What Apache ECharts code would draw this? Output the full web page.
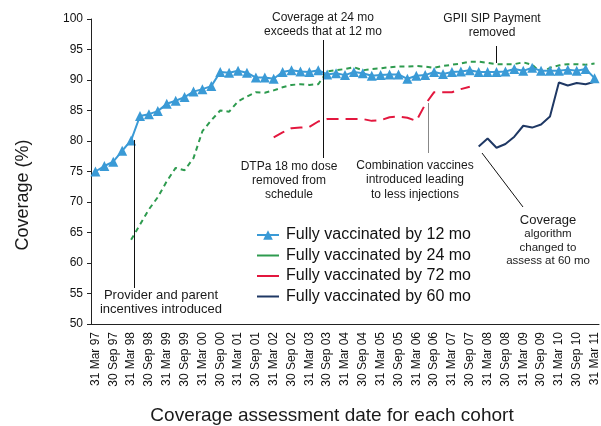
<!DOCTYPE html>
<html>
<head>
    <meta charset="utf-8">
    <title>Coverage</title>
    <script src="https://cdn.jsdelivr.net/npm/echarts@6/dist/echarts.min.js"></script>
    <style>
        html, body { margin: 0; padding: 0; background: #fff; }
    </style>
</head>
<body>
<div id="main" style="width: 601px;height:426px;"></div>
<script type="text/javascript">
    // quarterly assessment dates
    var dates = [
        '31 Mar 97', '30 Jun 97', '30 Sep 97', '31 Dec 97',
        '31 Mar 98', '30 Jun 98', '30 Sep 98', '31 Dec 98',
        '31 Mar 99', '30 Jun 99', '30 Sep 99', '31 Dec 99',
        '31 Mar 00', '30 Jun 00', '30 Sep 00', '31 Dec 00',
        '31 Mar 01', '30 Jun 01', '30 Sep 01', '31 Dec 01',
        '31 Mar 02', '30 Jun 02', '30 Sep 02', '31 Dec 02',
        '31 Mar 03', '30 Jun 03', '30 Sep 03', '31 Dec 03',
        '31 Mar 04', '30 Jun 04', '30 Sep 04', '31 Dec 04',
        '31 Mar 05', '30 Jun 05', '30 Sep 05', '31 Dec 05',
        '31 Mar 06', '30 Jun 06', '30 Sep 06', '31 Dec 06',
        '31 Mar 07', '30 Jun 07', '30 Sep 07', '31 Dec 07',
        '31 Mar 08', '30 Jun 08', '30 Sep 08', '31 Dec 08',
        '31 Mar 09', '30 Jun 09', '30 Sep 09', '31 Dec 09',
        '31 Mar 10', '30 Jun 10', '30 Sep 10', '31 Dec 10',
        '31 Mar 11'
    ];

    var by12 = [
        75.0, 75.9, 76.6, 78.4, 80.1, 84.1, 84.4, 84.9, 86.1, 86.6,
        87.2, 88.1, 88.5, 89.0, 91.3, 91.2, 91.5, 91.2, 90.4, 90.4,
        90.2, 91.3, 91.6, 91.4, 91.3, 91.6, 90.9, 91.1, 90.8, 91.3,
        91.1, 90.7, 90.8, 90.9, 90.9, 90.2, 90.7, 90.8, 91.3, 91.0,
        91.3, 91.4, 91.6, 91.3, 91.3, 91.3, 91.4, 91.8, 91.5, 92.0,
        91.5, 91.5, 91.5, 91.7, 91.5, 91.8, 90.3
    ];

    var by24 = [
        null, null, null, null, 63.8, 66.3, 68.8, 70.8, 73.4, 75.6,
        75.2, 77.2, 81.6, 83.4, 85.0, 84.8, 86.5, 87.3, 88.0, 87.9,
        88.3, 88.8, 89.2, 89.3, 89.2, 89.3, 91.4, 91.6, 91.8, 92.1,
        91.6, 91.8, 91.9, 92.1, 92.2, 92.2, 92.3, 92.2, 92.0, 92.3,
        92.5, 92.7, 93.0, 93.0, 92.8, 92.6, 92.6, 92.6, 92.9, 92.5,
        91.2, 92.0, 92.4, 92.6, 92.6, 92.5, 92.7
    ];

    var by72 = [
        null, null, null, null, null, null, null, null, null, null,
        null, null, null, null, null, null, null, null, null, null,
        80.6, 81.4, 82.1, 82.2, 82.3, 83.2, 83.6, 83.6, 83.6, 83.6,
        83.6, 83.3, 83.4, 83.9, 84.0, 83.8, 83.3, 86.0, 88.0, 88.0,
        88.0, 88.5, 88.9, null, null, null, null, null, null, null,
        null, null, null, null, null, null, null
    ];

    var by60 = [
        null, null, null, null, null, null, null, null, null, null,
        null, null, null, null, null, null, null, null, null, null,
        null, null, null, null, null, null, null, null, null, null,
        null, null, null, null, null, null, null, null, null, null,
        null, null, null, 79.1, 80.4, 78.9, 79.5, 80.7, 82.5, 82.2,
        82.7, 84.0, 89.6, 89.1, 89.5, 89.3, 89.7
    ];

    var font = 'Liberation Sans, Arial, sans-serif';

    // centred text block, y = top of first line
    function note(x, y, lines, size, lh, rot) {
        return {
            type: 'text',
            x: x,
            y: y,
            rotation: rot || 0,
            style: {
                text: lines.join('\n'),
                textAlign: 'center',
                align: 'center',
                textVerticalAlign: 'top',
                verticalAlign: 'top',
                font: (size || 12) + 'px ' + font,
                lineHeight: lh || 14,
                fill: '#1a1a1a'
            },
            z: 20
        };
    }

    function stick(x1, y1, x2, y2, color) {
        return {
            type: 'line',
            shape: { x1: x1, y1: y1, x2: x2, y2: y2 },
            style: { stroke: color || '#111', lineWidth: 1 },
            z: 10
        };
    }

    var noMark = { opacity: 0 };

    var myChart = echarts.init(document.getElementById('main'));

    var option = {
        animation: false,
        textStyle: { fontFamily: font },
        grid: { left: 91, right: 2, top: 19, bottom: 102 },
        legend: {
            orient: 'vertical',
            left: 251,
            top: 222,
            itemWidth: 22,
            itemHeight: 12,
            itemGap: 4.5,
            lineStyle: { type: 'solid', width: 2 },
            textStyle: { fontSize: 16, color: '#111', fontFamily: font, padding: [0, 0, 0, 2] },
            data: [
                { name: 'Fully vaccinated by 12 mo' },
                { name: 'Fully vaccinated by 24 mo', itemStyle: noMark },
                { name: 'Fully vaccinated by 72 mo', itemStyle: noMark },
                { name: 'Fully vaccinated by 60 mo', itemStyle: noMark }
            ]
        },
        xAxis: {
            type: 'category',
            data: dates,
            boundaryGap: true,
            axisLine: { lineStyle: { color: '#222' } },
            axisTick: { interval: 0, alignWithLabel: true, length: 4, lineStyle: { color: '#222' } },
            axisLabel: { interval: 1, rotate: 90, fontSize: 12, color: '#111', margin: 8 }
        },
        yAxis: {
            type: 'value',
            min: 50,
            max: 100,
            interval: 5,
            splitLine: { show: false },
            axisLine: { show: true, lineStyle: { color: '#222' } },
            axisTick: { show: true, length: 4, lineStyle: { color: '#222' } },
            axisLabel: { fontSize: 12, color: '#111', margin: 8 }
        },
        series: [
            {
                name: 'Fully vaccinated by 72 mo',
                type: 'line',
                data: by72,
                showSymbol: false,
                itemStyle: { color: '#E3173E' },
                lineStyle: { color: '#E3173E', width: 2, type: [12, 7] },
                z: 2
            },
            {
                name: 'Fully vaccinated by 60 mo',
                type: 'line',
                data: by60,
                showSymbol: false,
                itemStyle: { color: '#1F3864' },
                lineStyle: { color: '#1F3864', width: 2 },
                z: 2
            },
            {
                name: 'Fully vaccinated by 24 mo',
                type: 'line',
                data: by24,
                showSymbol: false,
                itemStyle: { color: '#2E9B4F' },
                lineStyle: { color: '#2E9B4F', width: 2, type: [5, 4] },
                z: 3
            },
            {
                name: 'Fully vaccinated by 12 mo',
                type: 'line',
                data: by12,
                symbol: 'triangle',
                symbolSize: 10,
                showAllSymbol: true,
                itemStyle: { color: '#3A9AD6' },
                lineStyle: { color: '#3A9AD6', width: 2 },
                z: 4
            }
        ],
        graphic: [
            // axis titles
            note(332, 405, ['Coverage assessment date for each cohort'], 19, 22),
            note(13, 195, ['Coverage (%)'], 18, 20, Math.PI / 2),
            // annotations
            note(323, 11, ['Coverage at 24 mo', 'exceeds that at 12 mo'], 12, 13.5),
            stick(323.5, 40, 323.5, 158),
            note(289, 160, ['DTPa 18 mo dose', 'removed from', 'schedule'], 12, 14),
            note(492, 12, ['GPII SIP Payment', 'removed'], 12, 14),
            stick(496.5, 46, 496.5, 63),
            stick(428.5, 103, 428.5, 153, '#888'),
            note(415, 158, ['Combination vaccines', 'introduced leading', 'to less injections'], 12, 14.5),
            stick(482, 153, 523, 207),
            note(548, 213, ['Coverage'], 13, 14),
            note(548, 227, ['algorithm', 'changed to', 'assess at 60 mo'], 11.5, 13.7),
            stick(134.5, 140, 134.5, 288),
            note(161, 288, ['Provider and parent', 'incentives introduced'], 13, 14.5)
        ]
    };

    if (option && typeof option === "object") {
        myChart.setOption(option, true);
    }
</script>
</body>
</html>
